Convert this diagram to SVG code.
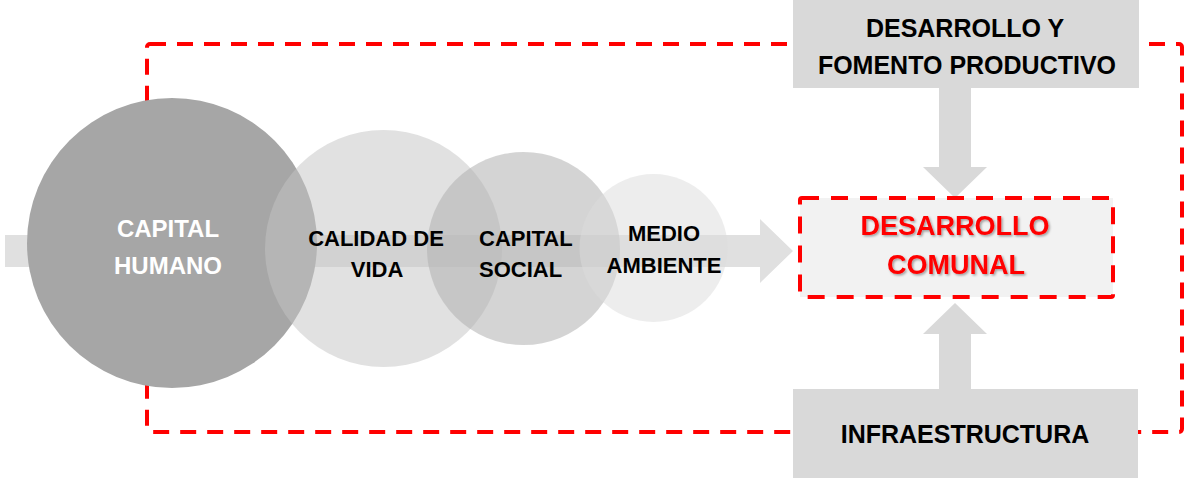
<svg xmlns="http://www.w3.org/2000/svg" width="1185" height="478" viewBox="0 0 1185 478">
  <defs>
    <style>
      text { font-family: "Liberation Sans", Arial, sans-serif; font-weight: bold; text-anchor: middle; }
      .lbl { font-size: 22px; fill: #000000; }
      .box { fill: #d9d9d9; }
      .boxtxt { font-size: 25px; fill: #000000; }
      .arrow { fill: #d9d9d9; }
      .redframe { fill: none; stroke: #ff0000; stroke-width: 4; stroke-dasharray: 16 11; }
    </style>
    <filter id="shadow" x="-10%" y="-20%" width="120%" height="150%">
      <feDropShadow dx="1.5" dy="1.5" stdDeviation="1" flood-color="#000000" flood-opacity="0.35"/>
    </filter>
  </defs>

  <g id="connectors">
    <rect class="redframe" x="147" y="44" width="1035" height="388" rx="3"/>
    <path id="main-arrow" d="M5,235 H760 V219 L793,251 L760,283 V267 H5 Z" fill="#e0e0e0"/>
  </g>

  <g id="capital-humano">
    <circle cx="172" cy="243" r="145" fill="#a6a6a6"/>
  </g>

  <g id="calidad-de-vida">
    <circle cx="383.5" cy="248.5" r="118.5" fill="#c4c4c4" fill-opacity="0.5"/>
  </g>

  <g id="capital-social">
    <circle cx="523.5" cy="248.5" r="96.5" fill="#b0b0b0" fill-opacity="0.55"/>
  </g>

  <g id="medio-ambiente">
    <circle cx="653.5" cy="248" r="74" fill="#dcdcdc" fill-opacity="0.5"/>
  </g>

  <g id="capital-humano-label">
    <text x="168" y="237" style="font-size:24px" fill="#ffffff">CAPITAL</text>
    <text x="168" y="274" style="font-size:24px" fill="#ffffff">HUMANO</text>
  </g>

  <g id="calidad-de-vida-label">
    <text class="lbl" x="376" y="246">CALIDAD DE</text>
    <text class="lbl" x="377" y="277">VIDA</text>
  </g>

  <g id="capital-social-label">
    <text class="lbl" x="479" y="246" style="text-anchor:start">CAPITAL</text>
    <text class="lbl" x="479" y="277" style="text-anchor:start">SOCIAL</text>
  </g>

  <g id="medio-ambiente-label">
    <text class="lbl" x="664" y="241">MEDIO</text>
    <text class="lbl" x="664" y="273">AMBIENTE</text>
  </g>

  <g id="fomento-productivo">
    <rect class="box" x="793" y="0" width="346" height="88"/>
    <text class="boxtxt" x="965" y="37">DESARROLLO Y</text>
    <text class="boxtxt" x="967" y="74">FOMENTO PRODUCTIVO</text>
  </g>

  <g id="infraestructura">
    <rect class="box" x="793" y="389" width="345" height="89"/>
    <text class="boxtxt" x="965" y="443">INFRAESTRUCTURA</text>
  </g>

  <g id="vertical-arrows">
    <path class="arrow" d="M939,88 H971 V167 H987 L955,198 L923,167 H939 Z"/>
    <path class="arrow" d="M939,389 H971 V334 H987 L955,303 L923,334 H939 Z"/>
  </g>

  <g id="desarrollo-comunal">
    <rect x="800" y="198" width="313" height="99" fill="#f2f2f2"/>
    <rect x="800" y="198" width="313" height="99" rx="2" fill="none" stroke="#ff0000" stroke-width="4" stroke-dasharray="17 12"/>
    <g filter="url(#shadow)">
      <text x="955" y="235" style="font-size:27px" fill="#ff0000">DESARROLLO</text>
      <text x="956" y="274" style="font-size:27px" fill="#ff0000">COMUNAL</text>
    </g>
  </g>
</svg>
